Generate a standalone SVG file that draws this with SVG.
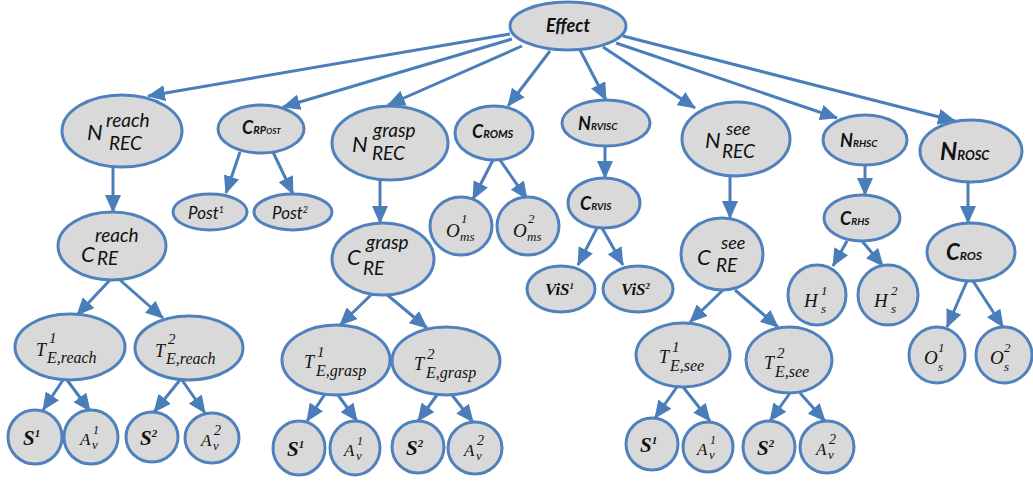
<svg xmlns="http://www.w3.org/2000/svg" width="1033" height="485" viewBox="0 0 1033 485">
<defs>
<marker id="ah" markerUnits="userSpaceOnUse" markerWidth="18" markerHeight="16" refX="17" refY="8" orient="auto">
<path d="M0,0 L18,8 L0,16 z" fill="#4a7ebb"/>
</marker>
<style>
.n ellipse{fill:#d9d9d9;stroke:#4f81bd;stroke-width:3}
.e path{fill:none;stroke:#4a7ebb;stroke-width:3;marker-end:url(#ah)}
text{fill:#111}
.c{font-family:Lato,"Liberation Sans",sans-serif;font-style:italic}
.cb{font-family:Lato,"Liberation Sans",sans-serif;font-style:italic;font-weight:bold}
.ser{font-family:"Liberation Serif","DejaVu Serif",serif;font-style:italic}
.serb{font-family:"Liberation Serif","DejaVu Serif",serif;font-style:italic;font-weight:bold}
</style>
</defs>
<rect width="1033" height="485" fill="#ffffff"/>
<g id="connectors" class="e">
<path d="M510,34 L148,96"/>
<path d="M512,39 L283,107"/>
<path d="M522,46 L388,105"/>
<path d="M550,51 L508,106"/>
<path d="M580,50 L606,100"/>
<path d="M603,47 L695,108"/>
<path d="M616,43 L837,118"/>
<path d="M623,36 L955,121"/>
<path d="M113,167 L113,212"/>
<path d="M240,152 L226,193"/>
<path d="M273,152 L293,194"/>
<path d="M380,180 L380,223"/>
<path d="M493,160 L473,199"/>
<path d="M500,160 L527,199"/>
<path d="M605,146 L605,178"/>
<path d="M597,228 L578,265"/>
<path d="M602,228 L623,265"/>
<path d="M730,177 L730,218"/>
<path d="M865,165 L865,195"/>
<path d="M968,182 L968,223"/>
<path d="M847,241 L833,266"/>
<path d="M862,241 L883,266"/>
<path d="M967,281 L947,327"/>
<path d="M973,281 L1003,327"/>
<path d="M110,280 L77,315"/>
<path d="M120,280 L163,318"/>
<path d="M63,380 L43,410"/>
<path d="M67,380 L90,411"/>
<path d="M180,380 L154,412"/>
<path d="M182,380 L205,413"/>
<path d="M373,293 L340,325"/>
<path d="M385,293 L427,328"/>
<path d="M325,394 L307,421"/>
<path d="M338,395 L357,421"/>
<path d="M437,395 L418,421"/>
<path d="M452,395 L473,422"/>
<path d="M723,290 L690,322"/>
<path d="M735,290 L778,327"/>
<path d="M677,387 L655,418"/>
<path d="M683,387 L710,421"/>
<path d="M790,393 L770,421"/>
<path d="M800,393 L825,421"/>
</g>
<g id="effect" class="n"><ellipse cx="568" cy="26" rx="58" ry="24"/><text class="cb" x="568" y="32" font-size="18" text-anchor="middle">Effect</text></g>
<g id="n-reach" class="n"><ellipse cx="122" cy="131" rx="60" ry="36"/><text class="c" font-size="22" x="87" y="140">N</text><text class="c" font-size="19" x="106" y="127">reach</text><text class="c" font-size="19" x="109" y="150">REC</text></g>
<g id="c-rpost" class="n"><ellipse cx="261" cy="129" rx="43" ry="24"/><text class="cb" x="242" y="134"><tspan font-size="18">C</tspan><tspan font-size="11" font-variant="small-caps">RPost</tspan></text></g>
<g id="n-grasp" class="n"><ellipse cx="390" cy="143" rx="58" ry="37"/><text class="c" font-size="22" x="352" y="152">N</text><text class="c" font-size="19" x="373" y="137">grasp</text><text class="c" font-size="19" x="372" y="160">REC</text></g>
<g id="c-roms" class="n"><ellipse cx="494" cy="133" rx="39" ry="27"/><text class="cb" x="472" y="138"><tspan font-size="18">C</tspan><tspan font-size="11">ROMS</tspan></text></g>
<g id="n-rvisc" class="n"><ellipse cx="606" cy="123" rx="44" ry="23"/><text class="cb" x="578" y="130"><tspan font-size="18">N</tspan><tspan font-size="10">RVISC</tspan></text></g>
<g id="n-see" class="n"><ellipse cx="736" cy="139" rx="54" ry="37"/><text class="c" font-size="22" x="705" y="148">N</text><text class="c" font-size="18" x="726" y="135">see</text><text class="c" font-size="19" x="722" y="158">REC</text></g>
<g id="n-rhsc" class="n"><ellipse cx="865" cy="140" rx="42" ry="25"/><text class="cb" x="840" y="147"><tspan font-size="18">N</tspan><tspan font-size="10">RHSC</tspan></text></g>
<g id="n-rosc" class="n"><ellipse cx="971" cy="151" rx="51" ry="31"/><text class="cb" x="940" y="160"><tspan font-size="24">N</tspan><tspan font-size="13">ROSC</tspan></text></g>
<g id="post1" class="n"><ellipse cx="210" cy="212" rx="37" ry="18"/><text class="c" x="188" y="219"><tspan font-size="17">Post</tspan><tspan font-size="9" dy="-6">1</tspan></text></g>
<g id="post2" class="n"><ellipse cx="293" cy="212" rx="39" ry="18"/><text class="c" x="272" y="219"><tspan font-size="17">Post</tspan><tspan font-size="9" dy="-6">2</tspan></text></g>
<g id="c-reach" class="n"><ellipse cx="112" cy="246" rx="54" ry="34"/><text class="c" font-size="22" x="81" y="262">C</text><text class="c" font-size="19" x="95" y="242">reach</text><text class="c" font-size="19" x="97" y="265">RE</text></g>
<g id="c-grasp" class="n"><ellipse cx="383" cy="259" rx="51" ry="36"/><text class="c" font-size="22" x="347" y="265">C</text><text class="c" font-size="19" x="366" y="249">grasp</text><text class="c" font-size="19" x="363" y="275">RE</text></g>
<g id="o-ms1" class="n"><ellipse cx="461" cy="226" rx="31" ry="29"/><text class="ser" font-size="19" x="446" y="237">O</text><text class="ser" font-size="13" x="461" y="223">1</text><text class="ser" font-size="13" x="460" y="241">ms</text></g>
<g id="o-ms2" class="n"><ellipse cx="528" cy="226" rx="31" ry="29"/><text class="ser" font-size="19" x="513" y="237">O</text><text class="ser" font-size="13" x="528" y="223">2</text><text class="ser" font-size="13" x="527" y="241">ms</text></g>
<g id="c-rvis" class="n"><ellipse cx="604" cy="203" rx="36" ry="25"/><text class="cb" x="580" y="210"><tspan font-size="18">C</tspan><tspan font-size="10">RVIS</tspan></text></g>
<g id="vis1" class="n"><ellipse cx="561" cy="289" rx="34" ry="23"/><text class="serb" x="545" y="295"><tspan font-size="17">ViS</tspan><tspan font-size="9" dy="-6">1</tspan></text></g>
<g id="vis2" class="n"><ellipse cx="638" cy="289" rx="35" ry="23"/><text class="serb" x="621" y="295"><tspan font-size="17">ViS</tspan><tspan font-size="9" dy="-6">2</tspan></text></g>
<g id="c-see" class="n"><ellipse cx="722" cy="254" rx="41" ry="36"/><text class="c" font-size="22" x="697" y="265">C</text><text class="c" font-size="18" x="721" y="249">see</text><text class="c" font-size="19" x="716" y="272">RE</text></g>
<g id="c-rhs" class="n"><ellipse cx="862" cy="218" rx="38" ry="23"/><text class="cb" x="840" y="225"><tspan font-size="18">C</tspan><tspan font-size="10">RHS</tspan></text></g>
<g id="c-ros" class="n"><ellipse cx="971" cy="252" rx="44" ry="29"/><text class="cb" x="946" y="260"><tspan font-size="22">C</tspan><tspan font-size="12">ROS</tspan></text></g>
<g id="h-s1" class="n"><ellipse cx="817" cy="295" rx="29" ry="30"/><text class="ser" font-size="19" x="804" y="307">H</text><text class="ser" font-size="13" x="821" y="295">1</text><text class="ser" font-size="13" x="821" y="313">s</text></g>
<g id="h-s2" class="n"><ellipse cx="888" cy="295" rx="30" ry="30"/><text class="ser" font-size="19" x="874" y="307">H</text><text class="ser" font-size="13" x="891" y="295">2</text><text class="ser" font-size="13" x="891" y="313">s</text></g>
<g id="o-s1" class="n"><ellipse cx="937" cy="355" rx="28" ry="28"/><text class="ser" font-size="19" x="924" y="364">O</text><text class="ser" font-size="13" x="938" y="352">1</text><text class="ser" font-size="13" x="938" y="371">s</text></g>
<g id="o-s2" class="n"><ellipse cx="1004" cy="355" rx="28" ry="28"/><text class="ser" font-size="19" x="990" y="364">O</text><text class="ser" font-size="13" x="1004" y="352">2</text><text class="ser" font-size="13" x="1004" y="371">s</text></g>
<g id="t1-reach" class="n"><ellipse cx="70" cy="347" rx="55" ry="33"/><text class="ser" font-size="18" x="36" y="356">T</text><text class="ser" font-size="15" x="49" y="343">1</text><text class="ser" font-size="16" x="47" y="363">E,reach</text></g>
<g id="t2-reach" class="n"><ellipse cx="189" cy="348" rx="54" ry="32"/><text class="ser" font-size="18" x="155" y="357">T</text><text class="ser" font-size="15" x="168" y="344">2</text><text class="ser" font-size="16" x="166" y="364">E,reach</text></g>
<g id="t1-grasp" class="n"><ellipse cx="336" cy="360" rx="54" ry="35"/><text class="ser" font-size="18" x="304" y="368">T</text><text class="ser" font-size="15" x="317" y="357">1</text><text class="ser" font-size="16" x="316" y="376">E,grasp</text></g>
<g id="t2-grasp" class="n"><ellipse cx="446" cy="361" rx="54" ry="34"/><text class="ser" font-size="18" x="414" y="370">T</text><text class="ser" font-size="15" x="427" y="359">2</text><text class="ser" font-size="16" x="426" y="378">E,grasp</text></g>
<g id="t1-see" class="n"><ellipse cx="683" cy="355" rx="47" ry="32"/><text class="ser" font-size="18" x="659" y="363">T</text><text class="ser" font-size="15" x="672" y="352">1</text><text class="ser" font-size="16" x="670" y="371">E,see</text></g>
<g id="t2-see" class="n"><ellipse cx="789" cy="360" rx="43" ry="33"/><text class="ser" font-size="18" x="764" y="369">T</text><text class="ser" font-size="15" x="777" y="358">2</text><text class="ser" font-size="16" x="775" y="377">E,see</text></g>
<g id="s1-reach" class="n"><ellipse cx="35" cy="437" rx="27" ry="27"/><text class="serb" x="23" y="445"><tspan font-size="21">S</tspan><tspan font-size="11" dy="-8">1</tspan></text></g>
<g id="a1-reach" class="n"><ellipse cx="91" cy="437" rx="27" ry="27"/><text class="ser" font-size="17" x="80" y="445">A</text><text class="ser" font-size="12" x="93" y="434">1</text><text class="ser" font-size="13" x="92" y="449">v</text></g>
<g id="s2-reach" class="n"><ellipse cx="152" cy="437" rx="26" ry="25"/><text class="serb" x="140" y="445"><tspan font-size="21">S</tspan><tspan font-size="11" dy="-8">2</tspan></text></g>
<g id="a2-reach" class="n"><ellipse cx="212" cy="438" rx="27" ry="25"/><text class="ser" font-size="17" x="201" y="446">A</text><text class="ser" font-size="14" x="214" y="435">2</text><text class="ser" font-size="13" x="213" y="450">v</text></g>
<g id="s1-grasp" class="n"><ellipse cx="299" cy="448" rx="26" ry="27"/><text class="serb" x="287" y="456"><tspan font-size="21">S</tspan><tspan font-size="11" dy="-8">1</tspan></text></g>
<g id="a1-grasp" class="n"><ellipse cx="355" cy="448" rx="25" ry="27"/><text class="ser" font-size="17" x="344" y="456">A</text><text class="ser" font-size="12" x="357" y="445">1</text><text class="ser" font-size="13" x="356" y="460">v</text></g>
<g id="s2-grasp" class="n"><ellipse cx="418" cy="447" rx="26" ry="26"/><text class="serb" x="406" y="455"><tspan font-size="21">S</tspan><tspan font-size="11" dy="-8">2</tspan></text></g>
<g id="a2-grasp" class="n"><ellipse cx="475" cy="448" rx="27" ry="26"/><text class="ser" font-size="17" x="464" y="456">A</text><text class="ser" font-size="14" x="477" y="445">2</text><text class="ser" font-size="13" x="476" y="460">v</text></g>
<g id="s1-see" class="n"><ellipse cx="652" cy="444" rx="26" ry="26"/><text class="serb" x="640" y="452"><tspan font-size="21">S</tspan><tspan font-size="11" dy="-8">1</tspan></text></g>
<g id="a1-see" class="n"><ellipse cx="708" cy="447" rx="25" ry="25"/><text class="ser" font-size="17" x="697" y="455">A</text><text class="ser" font-size="12" x="710" y="444">1</text><text class="ser" font-size="13" x="709" y="459">v</text></g>
<g id="s2-see" class="n"><ellipse cx="769" cy="447" rx="26" ry="26"/><text class="serb" x="757" y="455"><tspan font-size="21">S</tspan><tspan font-size="11" dy="-8">2</tspan></text></g>
<g id="a2-see" class="n"><ellipse cx="827" cy="447" rx="27" ry="26"/><text class="ser" font-size="17" x="816" y="455">A</text><text class="ser" font-size="14" x="829" y="444">2</text><text class="ser" font-size="13" x="828" y="459">v</text></g>
</svg>
